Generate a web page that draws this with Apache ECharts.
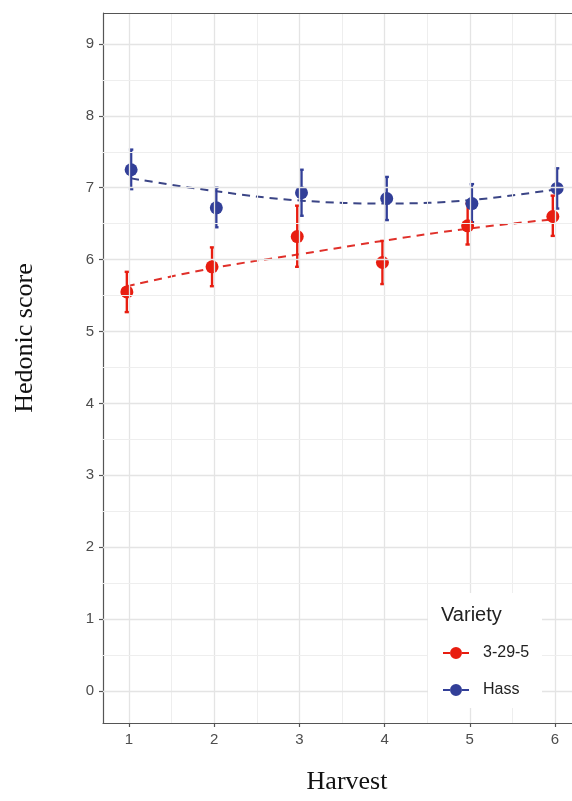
<!DOCTYPE html>
<html>
<head>
<meta charset="utf-8">
<script src="https://cdn.jsdelivr.net/npm/echarts@6/dist/echarts.min.js"></script>
<style>html,body{margin:0;padding:0;background:#fff;overflow:hidden}#c{width:572px;height:801px}</style>
</head>
<body>
<div id="c"></div>
<script>
// ---- data ----
var harvests = [1, 2, 3, 4, 5, 6];
var xTicks = [1, 2, 3, 4, 5, 6];
var yTicks = [0, 1, 2, 3, 4, 5, 6, 7, 8, 9];
var xMinorGrid = [1.5, 2.5, 3.5, 4.5, 5.5];
var yMinorGrid = [0.5, 1.5, 2.5, 3.5, 4.5, 5.5, 6.5, 7.5, 8.5];
var seriesNames = ['3-29-5', 'Hass'];
var red_mean  = [5.55, 5.90, 6.32, 5.96, 6.47, 6.60];
var red_low   = [5.27, 5.63, 5.90, 5.66, 6.21, 6.33];
var red_high  = [5.83, 6.17, 6.75, 6.26, 6.78, 6.89];
var red_trend = [5.63, 5.88, 6.07, 6.26, 6.43, 6.56];
var hass_mean  = [7.25, 6.72, 6.93, 6.85, 6.78, 6.99];
var hass_low   = [6.98, 6.45, 6.61, 6.55, 6.52, 6.71];
var hass_high  = [7.53, 7.00, 7.25, 7.15, 7.05, 7.27];
var hass_trend = [7.13, 6.95, 6.82, 6.78, 6.83, 6.98];

// ---- style ----
var RED = '#e81d10', BLUE = '#323f98';
var RED_LINE = '#e0302a', BLUE_LINE = '#3b4586';
var dodge = 0.025;
var AX = '#555555';

function pts(vals, off) { return harvests.map(function (h, i) { return [h + off, vals[i]]; }); }
function bars(lo, hi, off) { return harvests.map(function (h, i) { return [h + off, lo[i], hi[i]]; }); }

function errSeries(data, color) {
  return {
    type: 'custom', z: 3, silent: true,
    renderItem: function (params, api) {
      var x = api.value(0);
      var p1 = api.coord([x, api.value(1)]);
      var p2 = api.coord([x, api.value(2)]);
      var st = { stroke: color, lineWidth: 2.4 };
      return { type: 'group', children: [
        { type: 'line', shape: { x1: p1[0], y1: p1[1], x2: p2[0], y2: p2[1] }, style: st },
        { type: 'line', shape: { x1: p1[0] - 2.2, y1: p1[1], x2: p1[0] + 2.2, y2: p1[1] }, style: st },
        { type: 'line', shape: { x1: p2[0] - 2.2, y1: p2[1], x2: p2[0] + 2.2, y2: p2[1] }, style: st }
      ]};
    },
    encode: { x: 0, y: [1, 2] },
    data: data
  };
}

var gridLines = [];
xTicks.forEach(function (v) { gridLines.push({ xAxis: v, lineStyle: { color: '#e4e4e4', width: 1.3, type: 'solid' } }); });
xMinorGrid.forEach(function (v) { gridLines.push({ xAxis: v, lineStyle: { color: '#eeeeee', width: 1, type: 'solid' } }); });
yTicks.forEach(function (v) { gridLines.push({ yAxis: v, lineStyle: { color: '#e4e4e4', width: 1.3, type: 'solid' } }); });
yMinorGrid.forEach(function (v) { gridLines.push({ yAxis: v, lineStyle: { color: '#eeeeee', width: 1, type: 'solid' } }); });

var legendIcon = 'path://M0,5 L7.2,5 L7.2,7 L0,7 Z M18.8,5 L26,5 L26,7 L18.8,7 Z M7,6 A6,6 0 1,0 19,6 A6,6 0 1,0 7,6 Z';

var chart = echarts.init(document.getElementById('c'), null, { renderer: 'canvas' });
chart.setOption({
  animation: false,
  backgroundColor: '#ffffff',
  grid: { left: 103, top: 13, right: 0, bottom: 78, show: false },
  xAxis: {
    type: 'value', min: 0.695, max: 6.2,
    axisLine: { show: true, onZero: false, lineStyle: { color: AX, width: 1.2 } },
    axisTick: { show: true, customValues: xTicks, length: 4, lineStyle: { color: AX, width: 1.2 } },
    axisLabel: { show: true, customValues: xTicks, margin: 9, color: '#4d4d4d', fontSize: 15, fontFamily: 'Liberation Sans, Arial, sans-serif' },
    splitLine: { show: false }
  },
  yAxis: {
    type: 'value', min: -0.445, max: 9.43,
    axisLine: { show: true, onZero: false, lineStyle: { color: AX, width: 1.2 } },
    axisTick: { show: true, customValues: yTicks, length: 4, lineStyle: { color: AX, width: 1.2 } },
    axisLabel: { show: true, customValues: yTicks, margin: 9, color: '#4d4d4d', fontSize: 15, fontFamily: 'Liberation Sans, Arial, sans-serif' },
    splitLine: { show: false }
  },
  legend: {
    orient: 'vertical', left: 443, top: 645, padding: 0, itemGap: 21,
    itemWidth: 26, itemHeight: 12, z: 60,
    data: [
      { name: seriesNames[0], icon: legendIcon, itemStyle: { color: RED } },
      { name: seriesNames[1], icon: legendIcon, itemStyle: { color: BLUE } }
    ],
    textStyle: { color: '#222', fontSize: 16, fontFamily: 'Liberation Sans, Arial, sans-serif', padding: [0, 0, 0, 9] },
    selectedMode: false
  },
  graphic: [
    { type: 'line', shape: { x1: 103, y1: 13.5, x2: 572, y2: 13.5 }, style: { stroke: AX, lineWidth: 1.2 }, z: 40, silent: true },
    { type: 'rect', left: 428, top: 593, shape: { width: 114, height: 115 }, style: { fill: '#ffffff' }, z: 50, silent: true },
    { type: 'text', left: 441, top: 605, z: 51, style: { text: 'Variety', fill: '#222', fontSize: 20, fontFamily: 'Liberation Sans, Arial, sans-serif' } },
    { type: 'text', x: 25, y: 338, rotation: Math.PI / 2, z: 51,
      style: { text: 'Hedonic score', fill: '#111', fontSize: 26, fontFamily: 'Liberation Serif, Times New Roman, serif', align: 'center', verticalAlign: 'middle' } },
    { type: 'text', x: 347, y: 782, z: 51,
      style: { text: 'Harvest', fill: '#111', fontSize: 26, fontFamily: 'Liberation Serif, Times New Roman, serif', align: 'center', verticalAlign: 'middle' } }
  ],
  series: [
    { type: 'line', name: 'grid', data: [], silent: true, z: 0,
      markLine: { silent: true, symbol: 'none', label: { show: false }, animation: false, data: gridLines } },
    { type: 'line', name: seriesNames[0] + ' trend', data: pts(red_trend, -dodge), smooth: 0.4, symbol: 'none', z: 2,
      lineStyle: { color: RED_LINE, width: 2, type: [8, 6] } },
    { type: 'line', name: seriesNames[1] + ' trend', data: pts(hass_trend, dodge), smooth: 0.4, symbol: 'none', z: 2,
      lineStyle: { color: BLUE_LINE, width: 2, type: [8, 6] } },
    errSeries(bars(red_low, red_high, -dodge), RED),
    errSeries(bars(hass_low, hass_high, dodge), BLUE),
    { type: 'scatter', name: seriesNames[0], data: pts(red_mean, -dodge), symbol: 'circle', symbolSize: 13, z: 4,
      itemStyle: { color: RED, opacity: 1 } },
    { type: 'scatter', name: seriesNames[1], data: pts(hass_mean, dodge), symbol: 'circle', symbolSize: 13, z: 4,
      itemStyle: { color: BLUE, opacity: 1 } }
  ]
});
</script>
</body>
</html>
